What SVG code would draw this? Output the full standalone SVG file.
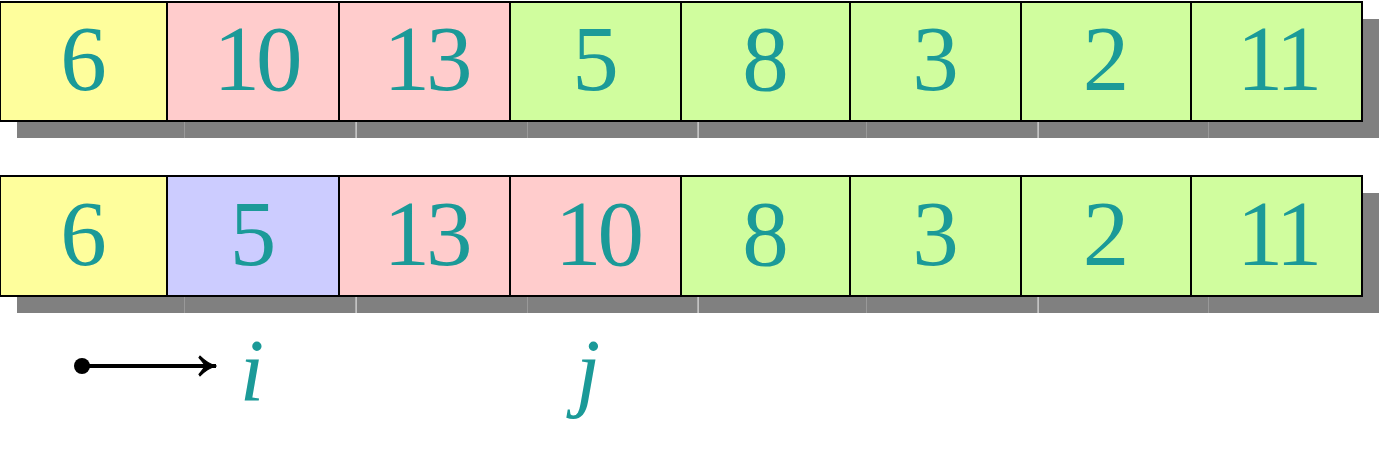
<svg xmlns="http://www.w3.org/2000/svg" width="1380" height="458" viewBox="0 0 1380 458">
<style>
.c{stroke:#000;stroke-width:2}
.y{fill:#fefe9c}
.p{fill:#ffcccc}
.g{fill:#d0fd9e}
.b{fill:#ccccff}
.sh{fill:#808080}
.gl{fill:#e0e0e0}
.gf{fill:#999}
.t{font-family:"Liberation Serif","Times New Roman",serif;font-size:93px;fill:#1b9a98;text-anchor:middle}
.v{font-family:"Liberation Serif","Times New Roman",serif;font-size:88px;font-style:italic;fill:#1b9a98;text-anchor:middle}
</style>
<defs>
<marker id="ah" markerWidth="19" markerHeight="22" refX="16" refY="10" orient="auto" markerUnits="userSpaceOnUse" viewBox="0 0 17 20">
<path d="M16.5,10 Q9,8.5 1.5,1 L0.5,2.5 Q5,7.5 6,10 Q5,12.5 0.5,17.5 L1.5,19 Q9,11.5 16.5,10 Z" fill="#000" stroke="#000" stroke-width="1"/>
</marker>
</defs>
<g id="shadows">
<rect class="sh" x="17" y="19" width="1362" height="119"/>
<rect class="sh" x="17" y="193" width="1362" height="120"/>
<rect class="gf" x="184" y="122" width="1" height="16"/>
<rect class="gl" x="355.5" y="122" width="1.2" height="16"/>
<rect class="gf" x="527" y="122" width="1" height="16"/>
<rect class="gl" x="697.5" y="122" width="1.2" height="16"/>
<rect class="gf" x="866" y="122" width="1" height="16"/>
<rect class="gl" x="1037.5" y="122" width="1.2" height="16"/>
<rect class="gf" x="1208" y="122" width="1" height="16"/>
<rect class="gf" x="184" y="297" width="1" height="16"/>
<rect class="gl" x="355.5" y="297" width="1.2" height="16"/>
<rect class="gf" x="527" y="297" width="1" height="16"/>
<rect class="gl" x="697.5" y="297" width="1.2" height="16"/>
<rect class="gf" x="866" y="297" width="1" height="16"/>
<rect class="gl" x="1037.5" y="297" width="1.2" height="16"/>
<rect class="gf" x="1208" y="297" width="1" height="16"/>
</g>
<g id="r1c1"><rect class="c y" x="0" y="2" width="167" height="119"/><text class="t" x="83.5" y="90">6</text></g>
<g id="r1c2"><rect class="c p" x="167" y="2" width="172" height="119"/><text class="t" x="256" y="90" letter-spacing="-4">10</text></g>
<g id="r1c3"><rect class="c p" x="339" y="2" width="171" height="119"/><text class="t" x="426" y="90" letter-spacing="-4">13</text></g>
<g id="r1c4"><rect class="c g" x="510" y="2" width="171" height="119"/><text class="t" x="595.5" y="90">5</text></g>
<g id="r1c5"><rect class="c g" x="681" y="2" width="169" height="119"/><text class="t" x="765.5" y="90">8</text></g>
<g id="r1c6"><rect class="c g" x="850" y="2" width="171" height="119"/><text class="t" x="935.5" y="90">3</text></g>
<g id="r1c7"><rect class="c g" x="1021" y="2" width="170" height="119"/><text class="t" x="1106" y="90">2</text></g>
<g id="r1c8"><rect class="c g" x="1191" y="2" width="171" height="119"/><text class="t" x="1277.5" y="90" letter-spacing="-4">11</text></g>
<g id="r2c1"><rect class="c y" x="0" y="176" width="167" height="120"/><text class="t" x="83.5" y="265">6</text></g>
<g id="r2c2"><rect class="c b" x="167" y="176" width="172" height="120"/><text class="t" x="253" y="265">5</text></g>
<g id="r2c3"><rect class="c p" x="339" y="176" width="171" height="120"/><text class="t" x="426" y="265" letter-spacing="-4">13</text></g>
<g id="r2c4"><rect class="c p" x="510" y="176" width="171" height="120"/><text class="t" x="597.5" y="265" letter-spacing="-4">10</text></g>
<g id="r2c5"><rect class="c g" x="681" y="176" width="169" height="120"/><text class="t" x="765.5" y="265">8</text></g>
<g id="r2c6"><rect class="c g" x="850" y="176" width="171" height="120"/><text class="t" x="935.5" y="265">3</text></g>
<g id="r2c7"><rect class="c g" x="1021" y="176" width="170" height="120"/><text class="t" x="1106" y="265">2</text></g>
<g id="r2c8"><rect class="c g" x="1191" y="176" width="171" height="120"/><text class="t" x="1277.5" y="265" letter-spacing="-4">11</text></g>
<g id="label-i"><text class="v" x="252" y="400">i</text></g>
<g id="label-j"><text class="v" x="588" y="400">j</text></g>
<g id="connectors">
<circle cx="82" cy="366" r="8" fill="#000"/>
<line x1="82" y1="366" x2="216" y2="366" stroke="#000" stroke-width="4" marker-end="url(#ah)"/>
</g>
</svg>
